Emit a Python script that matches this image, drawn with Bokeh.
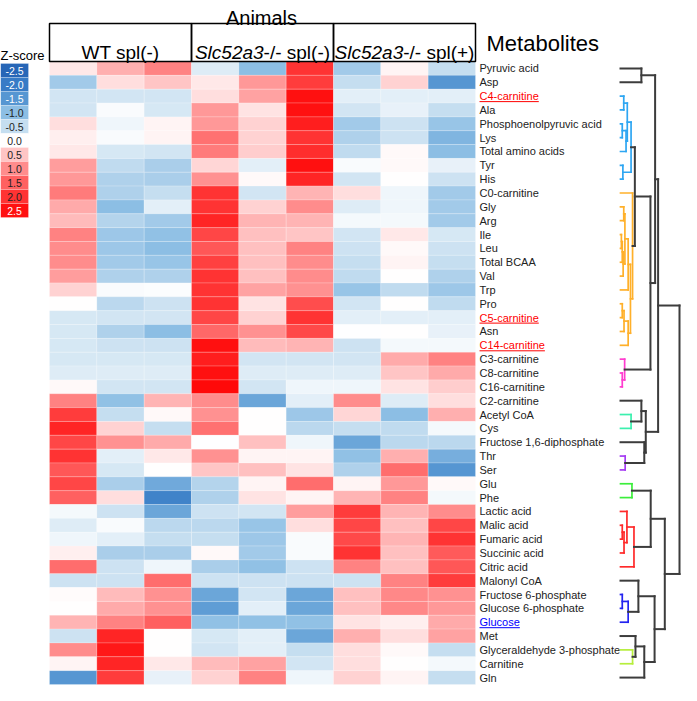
import numpy as np
from bokeh.plotting import figure
from bokeh.models import Range1d, ColumnDataSource, LinearColorMapper
from bokeh.transform import transform
from bokeh.core.properties import value
from bokeh.embed import file_html
from bokeh.resources import INLINE

# ---------------- data ----------------
metabolites = [
    "Pyruvic acid", "Asp", "C4-carnitine", "Ala", "Phosphoenolpyruvic acid", "Lys",
    "Total amino acids", "Tyr", "His", "C0-carnitine", "Gly", "Arg", "Ile", "Leu",
    "Total BCAA", "Val", "Trp", "Pro", "C5-carnitine", "Asn", "C14-carnitine",
    "C3-carnitine", "C8-carnitine", "C16-carnitine", "C2-carnitine", "Acetyl CoA", "Cys",
    "Fructose 1,6-diphosphate", "Thr", "Ser", "Glu", "Phe", "Lactic acid", "Malic acid",
    "Fumaric acid", "Succinic acid", "Citric acid", "Malonyl CoA", "Fructose 6-phosphate",
    "Glucose 6-phosphate", "Glucose", "Met", "Glyceraldehyde 3-phosphate", "Carnitine", "Gln",
]

groups = ["WT spl(-)", "Slc52a3-/- spl(-)", "Slc52a3-/- spl(+)"]

# z-scores, three animals per group, one row per metabolite (order as above)
wt_spl_minus = [
    [0.2, 0.7, 1.1], [-0.8, 0.3, 0.5], [-0.4, -0.4, -0.4], [-0.4, -0.05, -0.35],
    [0.3, -0.15, 0.1], [0.15, -0.05, 0.1], [0.2, -0.35, -0.4], [0.85, -0.55, -0.75],
    [0.9, -0.7, -0.75], [1.2, -0.7, -0.5], [0.75, -1.0, -0.25], [0.6, -0.65, -0.8],
    [1.1, -0.85, -0.95], [1.0, -0.85, -1.0], [1.0, -0.8, -0.9], [0.85, -0.7, -0.7],
    [0.4, -0.05, -0.03], [0.0, -0.6, -0.45], [-0.35, -0.4, -0.4], [-0.35, -0.7, -1.0],
    [-0.35, -0.45, -0.45], [-0.35, -0.35, -0.35], [-0.3, -0.3, -0.3], [0.05, -0.4, -0.4],
    [1.1, -0.95, 0.65], [1.9, -0.5, 0.05], [2.2, 0.4, -0.5], [1.8, 0.95, 0.75],
    [2.0, -0.25, 0.2], [1.6, -0.35, 0.0], [1.8, -0.75, -1.25], [1.5, 0.3, -1.85],
    [-0.1, -0.45, -1.3], [-0.3, -0.05, -0.6], [-0.15, -0.25, -0.5], [0.15, -0.75, -0.75],
    [1.35, -0.45, -0.15], [-0.45, -0.45, 1.35], [0.03, 0.6, 0.95], [0.02, 0.75, 0.95],
    [0.65, 1.1, 1.5], [-0.45, 2.2, 0.0], [1.0, 2.4, 0.0], [0.1, 2.2, 0.2], [-1.5, 1.9, -0.2],
]
ko_spl_minus = [
    [-0.3, -1.0, 2.0], [0.2, 0.9, 1.9], [0.3, 0.8, 2.5], [0.9, 0.25, 2.5],
    [0.9, 0.4, 2.3], [1.3, 0.4, 2.0], [1.2, 0.45, 2.1], [0.35, -0.25, 2.5],
    [0.95, 0.05, 2.2], [2.0, -0.4, 0.65], [2.0, 0.4, 1.0], [2.2, 0.65, 0.65],
    [1.8, 0.55, 0.5], [1.6, 0.55, 1.1], [1.85, 0.55, 1.0], [2.0, 0.55, 1.0],
    [2.0, 0.8, 0.95], [2.0, 0.25, 1.7], [1.8, 0.4, 2.0], [1.4, 0.95, 1.75],
    [2.5, 0.6, 0.65], [2.3, -0.4, -0.4], [2.5, -0.3, -0.3], [2.6, -0.4, -0.15],
    [1.0, -1.3, -0.25], [0.95, 0.0, -0.85], [1.3, 0.0, -0.6], [-0.02, 0.55, -0.15],
    [0.95, 0.1, 0.1], [0.5, 0.55, 0.25], [-0.65, 0.1, 1.35], [-0.7, 0.25, 0.1],
    [-0.45, -0.4, 0.85], [-0.6, -0.9, 0.3], [-0.5, -0.85, -0.05], [0.05, -0.8, -0.05],
    [-0.75, -0.95, -0.45], [-0.45, -0.45, -0.45], [-1.3, -0.4, -1.3], [-1.4, -0.25, -1.3],
    [-0.95, -0.95, -0.95], [-0.35, -0.25, -1.3], [-0.4, -0.25, -0.5], [0.6, 0.8, -0.4],
    [0.4, 1.1, -0.15],
]
ko_spl_plus = [
    [-0.8, 0.1, -0.5], [-0.5, 0.4, -1.5], [-0.25, -0.25, -0.25], [-0.4, -0.2, -0.5],
    [-0.8, -0.45, -0.9], [-0.7, -0.45, -1.1], [-0.55, 0.05, -1.0], [-0.05, 0.05, -0.2],
    [-0.4, 0.0, -0.45], [0.3, -0.15, -0.8], [-0.3, -0.15, -0.8], [-0.1, -0.1, -0.8],
    [-0.4, 0.2, -0.35], [-0.45, 0.05, -0.45], [-0.5, 0.1, -0.5], [-0.55, 0.0, -0.7],
    [-0.9, -0.55, -0.85], [-0.4, 0.0, -0.55], [-0.25, -0.25, -0.25], [-0.02, 0.0, -0.2],
    [-0.45, -0.1, -0.1], [-0.4, 0.75, 1.1], [-0.3, 0.5, 0.75], [-0.15, 0.25, 0.45],
    [1.0, -0.3, 0.3], [0.35, -1.0, 0.7], [-0.5, -0.55, -0.1], [-1.3, -0.6, -0.6],
    [-0.95, 0.7, -1.2], [-0.7, 1.35, -1.5], [0.1, 0.9, 0.05], [0.65, 1.1, -0.1],
    [1.9, 0.65, 1.0], [1.8, 0.55, 1.8], [1.75, 0.65, 2.0], [2.0, 0.55, 1.55],
    [1.1, 0.55, 1.6], [-0.45, 1.1, 1.9], [0.55, 1.05, 0.95], [0.55, 1.05, 0.9],
    [0.25, 0.15, 0.75], [0.7, 0.3, 0.8], [0.3, 0.05, -0.5], [0.3, 0.0, -0.1],
    [0.4, 0.1, -0.5],
]

legend_values = [-2.5, -2.0, -1.5, -1.0, -0.5, 0.0, 0.5, 1.0, 1.5, 2.0, 2.5]

red_labels = ["C4-carnitine", "C5-carnitine", "C14-carnitine"]
blue_labels = ["Glucose"]

# hierarchical clustering of metabolites: (child a, child b, distance, cluster)
# leaves are 0..44 (row order), merged nodes numbered from 45 upward
merges = [
    (2, 3, 3.7, "sky"), (4, 5, 2.0, "sky"), (46, 6, 6.3, "sky"), (45, 47, 7.7, "sky"),
    (7, 8, 2.7, "sky"), (48, 49, 12.0, "sky"),
    (10, 11, 3.7, "orange"), (12, 13, 1.0, "orange"), (52, 14, 2.0, "orange"),
    (53, 15, 3.0, "orange"), (51, 54, 5.0, "orange"), (55, 16, 8.7, "orange"),
    (17, 18, 2.0, "orange"), (57, 19, 4.0, "orange"), (58, 20, 8.7, "orange"),
    (56, 59, 11.3, "orange"), (9, 60, 13.7, "orange"),
    (50, 61, 16.3, "k"), (0, 1, 23.7, "k"),
    (22, 23, 2.0, "magenta"), (21, 64, 4.7, "magenta"),
    (62, 65, 34.0, "k"), (63, 66, 39.3, "k"),
    (25, 26, 12.0, "teal"), (24, 68, 23.7, "k"),
    (28, 29, 5.3, "purple"), (27, 70, 27.0, "k"), (69, 71, 28.7, "k"),
    (67, 72, 42.7, "k"),
    (30, 31, 13.0, "green"),
    (33, 34, 2.0, "red"), (75, 35, 4.0, "red"), (32, 76, 7.3, "red"), (77, 36, 15.3, "red"),
    (74, 78, 34.3, "k"),
    (38, 39, 2.0, "blue"), (80, 40, 8.7, "blue"), (37, 81, 20.3, "k"),
    (42, 43, 13.7, "lime"), (41, 83, 17.0, "k"), (84, 44, 27.0, "k"),
    (82, 85, 38.7, "k"), (79, 86, 50.3, "k"), (73, 87, 67.0, "k"),
]

cluster_colors = {
    "k": "#3c3c3c", "sky": "#2ea6f2", "orange": "#ffb02a", "magenta": "#ff3ccf",
    "teal": "#3cf0ae", "purple": "#a53cf2", "green": "#3cee3c", "red": "#ff2a2a",
    "blue": "#2424f0", "lime": "#b6ee3c",
}

# ---------------- colour scale ----------------
anchors = [
    (-2.75, (30, 92, 176)), (-2.0, (56, 124, 198)), (-1.5, (86, 150, 210)),
    (-1.0, (140, 190, 228)), (-0.5, (198, 222, 240)), (0.0, (255, 255, 255)),
    (0.5, (255, 198, 198)), (1.0, (255, 140, 140)), (1.5, (255, 96, 96)),
    (2.0, (255, 52, 52)), (2.75, (255, 0, 0)),
]
av = np.array([a[0] for a in anchors])
ac = np.array([a[1] for a in anchors], dtype=float)
grid = np.linspace(-2.75, 2.75, 256)
palette = []
for g in grid:
    rgb = [np.interp(g, av, ac[:, k]) for k in range(3)]
    palette.append("#%02x%02x%02x" % tuple(int(round(c)) for c in rgb))
mapper = LinearColorMapper(palette=palette, low=-2.75, high=2.75)

# ---------------- layout constants (page pixels) ----------------
HM_LEFT, HM_RIGHT, HM_TOP, HM_BOTTOM = 57.0, 483.0, 69.0, 692.0
n_rows = len(metabolites)
n_cols = 9
cw = (HM_RIGHT - HM_LEFT) / n_cols
rh = (HM_BOTTOM - HM_TOP) / n_rows
FONT = value("Liberation Sans")

p = figure(width=681, height=685, x_range=Range1d(8, 689), y_range=Range1d(693, 8),
           output_backend="svg", toolbar_location=None, x_axis_location=None,
           y_axis_location=None, min_border=0, outline_line_color=None)
p.xgrid.visible = False
p.ygrid.visible = False
p.background_fill_color = "white"

# heatmap
xs, ys, zs = [], [], []
for i in range(n_rows):
    row = wt_spl_minus[i] + ko_spl_minus[i] + ko_spl_plus[i]
    for j, z in enumerate(row):
        xs.append(HM_LEFT + cw * (j + 0.5))
        ys.append(HM_TOP + rh * (i + 0.5))
        zs.append(z)
src = ColumnDataSource(dict(x=xs, y=ys, z=zs))
p.rect(x="x", y="y", width=cw, height=rh, source=src, fill_color=transform("z", mapper),
       line_color="white", line_alpha=0.35, line_width=0.6)

# header boxes
lefts = [HM_LEFT + 3 * cw * k for k in range(3)]
rights = [HM_LEFT + 3 * cw * (k + 1) for k in range(3)]
p.quad(left=lefts, right=rights, top=31, bottom=HM_TOP, fill_color=None,
       line_color="black", line_width=1.5)

# text width helper (Helvetica/Arial metrics)
W = {'C': 722, '4': 556, '-': 333, 'c': 500, 'a': 556, 'r': 333, 'n': 556, 'i': 222,
     't': 278, 'e': 556, '5': 556, '1': 556, 'G': 778, 'l': 222, 'u': 556, 'o': 556,
     's': 500, 'S': 667, '2': 556, '3': 556, '/': 278, ' ': 278, 'p': 556, '(': 333,
     ')': 333, '+': 584, 'W': 944, 'T': 611}


def tw(s, size):
    return sum(W.get(ch, 556) for ch in s) * size / 1000.0


HSIZE = 19
centers = [(l + r) / 2 for l, r in zip(lefts, rights)]
p.text(x=[centers[0]], y=[59.5], text=[groups[0]], text_font=FONT,
       text_font_size=value("%dpx" % HSIZE), text_align="center",
       text_baseline="alphabetic", text_color="black")
for k in (1, 2):
    ital, rest = groups[k][:7], groups[k][7:]
    total = tw(ital, HSIZE) + tw(rest, HSIZE)
    split = centers[k] - total / 2 + tw(ital, HSIZE)
    p.text(x=[split], y=[59.5], text=[ital], text_font=FONT, text_font_style="italic",
           text_font_size=value("%dpx" % HSIZE), text_align="right",
           text_baseline="alphabetic", text_color="black")
    p.text(x=[split], y=[59.5], text=[rest], text_font=FONT,
           text_font_size=value("%dpx" % HSIZE), text_align="left",
           text_baseline="alphabetic", text_color="black")

p.text(x=[(HM_LEFT + HM_RIGHT) / 2 - 1], y=[25], text=["Animals"], text_font=FONT,
       text_font_size=value("20px"), text_align="center", text_baseline="alphabetic",
       text_color="black")
p.text(x=[494], y=[51], text=["Metabolites"], text_font=FONT,
       text_font_size=value("22px"), text_align="left", text_baseline="alphabetic",
       text_color="black")

# z-score legend
p.text(x=[8], y=[62.5], text=["Z-score"], text_font=FONT, text_font_size=value("13px"),
       text_align="left", text_baseline="alphabetic", text_color="black")
leg_y = [71 + 14 * (k + 0.5) for k in range(len(legend_values))]
lsrc = ColumnDataSource(dict(x=[22] * len(legend_values), y=leg_y, z=legend_values,
                             t=["%.1f" % v for v in legend_values],
                             c=["white" if (v <= -1.5 or v >= 2.5) else "#222222"
                                for v in legend_values]))
p.rect(x="x", y="y", width=28, height=14, source=lsrc, fill_color=transform("z", mapper),
       line_color="white", line_alpha=0.4, line_width=0.6)
p.text(x="x", y="y", text="t", source=lsrc, text_color="c", text_font=FONT,
       text_font_size=value("10.5px"), text_align="center", text_baseline="middle")

# row labels
LBL_X = 487
lab_colors = []
for m in metabolites:
    if m in red_labels:
        lab_colors.append("#ff0000")
    elif m in blue_labels:
        lab_colors.append("#0000ff")
    else:
        lab_colors.append("#222222")
row_y = [HM_TOP + rh * (i + 0.5) for i in range(n_rows)]
tsrc = ColumnDataSource(dict(x=[LBL_X] * n_rows, y=row_y, t=metabolites, c=lab_colors))
p.text(x="x", y="y", text="t", source=tsrc, text_color="c", text_font=FONT,
       text_font_size=value("11px"), text_align="left", text_baseline="middle")
ux0, ux1, uy, uc = [], [], [], []
for i, m in enumerate(metabolites):
    if m in red_labels or m in blue_labels:
        ux0.append(LBL_X)
        ux1.append(LBL_X + tw(m, 11))
        uy.append(row_y[i] + 5.5)
        uc.append(lab_colors[i])
p.segment(x0=ux0, y0=uy, x1=ux1, y1=uy, line_color=uc, line_width=1)

# dendrogram
LEAF_X = 628.0
max_h = max(m[2] for m in merges)
scale = (687.0 - LEAF_X) / max_h
node_y = {i: row_y[i] for i in range(n_rows)}
node_h = {i: 0.0 for i in range(n_rows)}
sx0, sy0, sx1, sy1, sc, sw = [], [], [], [], [], []
for k, (a, b, h, cl) in enumerate(merges):
    nid = n_rows + k
    col = cluster_colors[cl]
    lw = 2.0 if cl == "k" else 1.7
    xh = LEAF_X + h * scale
    # vertical
    sx0.append(xh); sx1.append(xh); sy0.append(node_y[a]); sy1.append(node_y[b])
    sc.append(col); sw.append(lw)
    for ch in (a, b):
        sx0.append(LEAF_X + node_h[ch] * scale); sx1.append(xh)
        sy0.append(node_y[ch]); sy1.append(node_y[ch])
        sc.append(col); sw.append(lw)
    node_y[nid] = (node_y[a] + node_y[b]) / 2
    node_h[nid] = h
dsrc = ColumnDataSource(dict(x0=sx0, y0=sy0, x1=sx1, y1=sy1, c=sc, w=sw))
p.segment(x0="x0", y0="y0", x1="x1", y1="y1", line_color="c", line_width="w", source=dsrc,
          line_cap="square")

open("out.html", "w").write(file_html(p, INLINE))
